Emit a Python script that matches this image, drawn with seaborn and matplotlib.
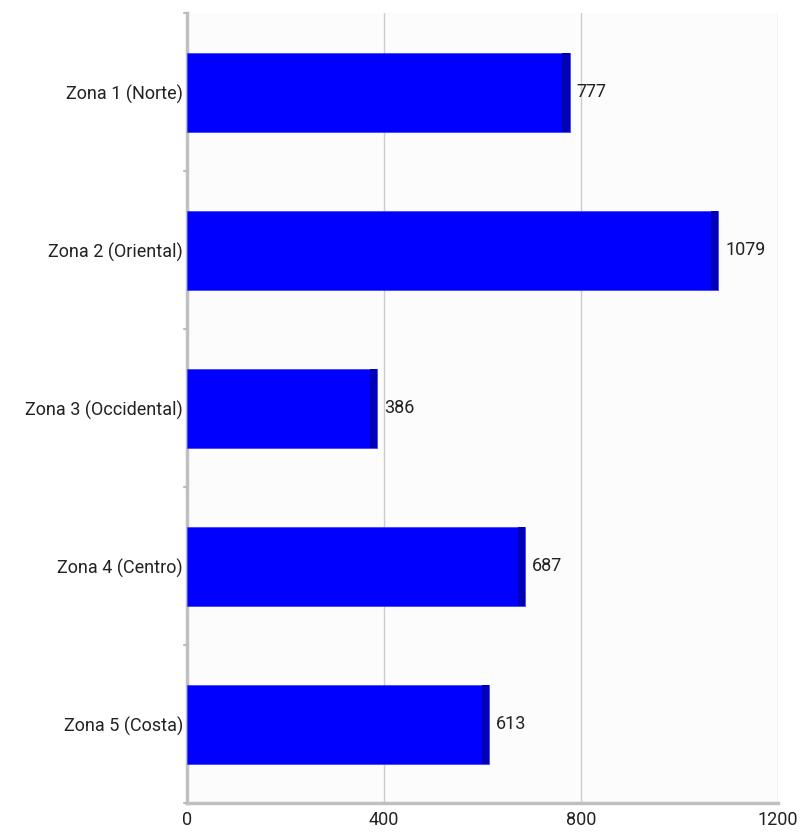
import matplotlib
matplotlib.use("Agg")
import matplotlib.pyplot as plt
import seaborn as sns
import pandas as pd

zonas = ["Zona 1 (Norte)", "Zona 2 (Oriental)", "Zona 3 (Occidental)", "Zona 4 (Centro)", "Zona 5 (Costa)"]
valores = [777, 1079, 386, 687, 613]
x_ticks = [0, 400, 800, 1200]

sns.set_style("white")
plt.rcParams['font.family'] = ['Roboto', 'DejaVu Sans']

df = pd.DataFrame({"zona": zonas, "valor": valores})

fig = plt.figure(figsize=(8.01, 8.32), dpi=100)
ax = fig.add_axes([187/801, 1 - 803/832, (778-187)/801, (803-13)/832])
ax.set_facecolor("#fcfcfc")

sns.barplot(data=df, x="valor", y="zona", orient="h", color="#0000ff", saturation=1,
            width=0.5, ax=ax, zorder=3, edgecolor="#4444ff", linewidth=0.6)
# darker right edge of each bar
edge = 15
ax.barh(range(len(valores)), [edge]*len(valores), left=[v - edge for v in valores],
        height=0.5, color="#0000b4", edgecolor="none", linewidth=0, zorder=4)

for i, v in enumerate(valores):
    ax.text(v + 14, i, str(v), va="center", ha="left", fontsize=13, color="#222222")

ax.set_xlim(0, 1200)
ax.set_ylim(4.5, -0.5)
ax.set_xticks(x_ticks)
ax.set_xticklabels([str(t) for t in x_ticks], fontsize=13, color="#222222")
ax.set_yticks(range(len(zonas)))
ax.set_yticklabels(zonas, fontsize=13, color="#222222")
ax.tick_params(axis="y", length=0, pad=3)
ax.tick_params(axis="x", length=5, color="#bbbbbb", width=2, pad=1)
for t in [-0.5, 0.5, 1.5, 2.5, 3.5, 4.5]:
    ax.plot([-6, 0], [t, t], color="#bbbbbb", lw=1.5, clip_on=False, zorder=5)

ax.grid(axis="x", color="#cccccc", lw=1, zorder=0)
ax.set_axisbelow(True)
ax.set_xlabel("")
ax.set_ylabel("")
for s in ["top", "right"]:
    ax.spines[s].set_visible(False)
for s in ["left", "bottom"]:
    ax.spines[s].set_color("#c0c0c0")
    ax.spines[s].set_linewidth(2.5)

fig.savefig("out.png", dpi=100, facecolor="white")
